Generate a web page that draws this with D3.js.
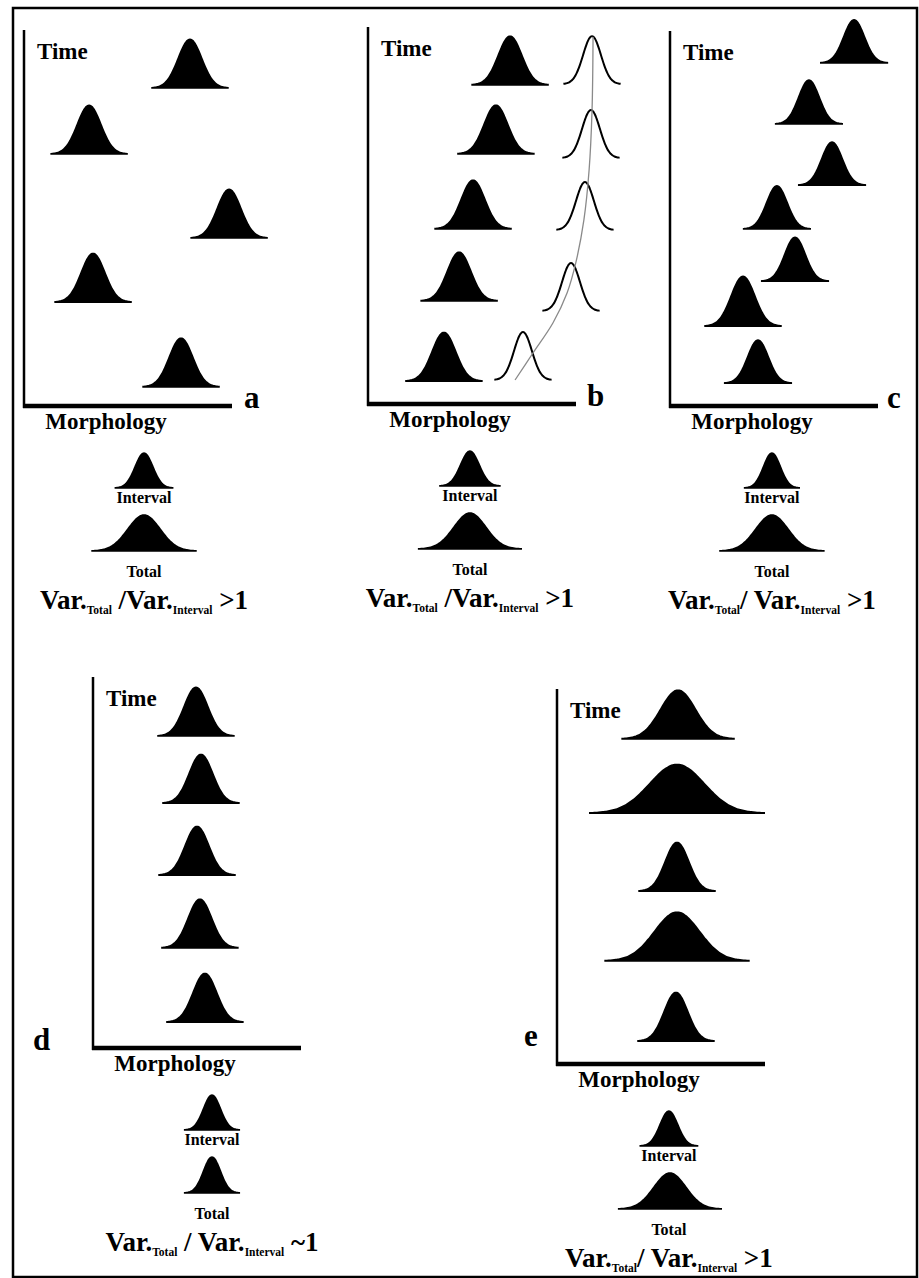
<!DOCTYPE html>
<html>
<head>
<meta charset="utf-8">
<script src="https://cdn.jsdelivr.net/npm/d3@7"></script>
<style>
  body { margin: 0; background: #fff; }
  svg { display: block; }
  text { font-family: "Liberation Serif", "Times New Roman", serif; font-weight: bold; fill: #000; }
</style>
</head>
<body>
<svg id="fig" width="919" height="1278"></svg>
<script>
// Morphology in axis units (0..100 = length of the x axis), time in axis units (0 = x axis).
// Each curve: mean morphology, time of its baseline, sd (morphology units).
const aMorph = [79.8, 31.3, 98.6, 33.2, 75.5];
const aTime  = [84.8, 67.2, 44.8, 27.7, 5.1];
const aSd    = [5.7, 5.7, 5.7, 5.7, 5.7];

const bMorph = [68.3, 61.5, 50.5, 43.8, 36.5];
const bTime  = [85.1, 66.7, 46.7, 27.5, 6.1];
const bSd    = [5.7, 5.7, 5.7, 5.7, 5.7];
const bOpenMorph = [107.7, 107.2, 104.3, 97.6, 74.5];
const bOpenTime  = [85.3, 65.6, 46.4, 24.8, 6.4];
const bOpenSd    = [4.3, 4.3, 4.3, 4.3, 4.3];
const bTrendMorph = [70.7, 79.3, 88.9, 95.7, 100, 103.8, 106.3, 107.7, 108.2];
const bTrendTime  = [6.4, 13.6, 21.6, 29.6, 37.9, 49.1, 62.4, 78.1, 97.9];

const cMorph = [88.5, 66.8, 77.9, 51.4, 60.1, 35.1, 42.3];
const cTime  = [91.5, 75.2, 58.9, 47.2, 33.3, 21.3, 6.1];
const cSd    = [5.0, 5.0, 5.0, 5.0, 5.0, 5.7, 5.0];
const cPeak  = [11.5, 11.7, 11.5, 11.5, 11.7, 13.3, 11.5];

const dMorph = [49.5, 51.9, 50.0, 51.4, 53.8];
const dTime  = [83.2, 65.3, 46.1, 26.7, 6.9];
const dSd    = [5.7, 5.7, 5.7, 5.7, 5.7];

const eMorph = [58.2, 57.7, 57.7, 57.7, 57.2];
const eTime  = [86.7, 66.9, 46.1, 27.5, 6.1];
const eSd    = [8.4, 13.1, 5.7, 10.8, 5.7];

// summary distributions under each panel: [morph, sd] for interval and total
const intervalMorph = { a: 57.7, b: 49.0, c: 49.0, d: 57.2, e: 53.8 };
const intervalSd    = { a: 4.3, b: 4.5, c: 4.1, d: 4.1, e: 4.3 };
const totalMorph    = { a: 57.7, b: 49.0, c: 49.0, d: 57.2, e: 54.3 };
const totalSd       = { a: 7.8, b: 7.7, c: 7.8, d: 4.1, e: 7.7 };
const ratioText = {
  a: ["Var.", "Total", " /Var.", "Interval", " >1"],
  b: ["Var.", "Total", " /Var.", "Interval", " >1"],
  c: ["Var.", "Total", "/ Var.", "Interval", "  >1"],
  d: ["Var.", "Total", " / Var.", "Interval", " ~1"],
  e: ["Var.", "Total", "/ Var.", "Interval", " >1"]
};

// layout (pixels)
const panels = [
  { id: "a", x0: 24,  axisY: 406,  top: 30,  lab: [244, 408] },
  { id: "b", x0: 368, axisY: 404,  top: 27,  lab: [587, 406] },
  { id: "c", x0: 670, axisY: 406,  top: 31,  lab: [887, 408] },
  { id: "d", x0: 93,  axisY: 1048, top: 677, lab: [33, 1050] },
  { id: "e", x0: 557, axisY: 1064, top: 689, lab: [524, 1046] }
];
const AXIS_LEN = 208, TIME_LEN = 375, PEAK = 13, TAIL = 3.2;

const svg = d3.select("#fig");
svg.append("rect").attr("x", 13).attr("y", 8).attr("width", 904).attr("height", 1269)
  .attr("fill", "none").attr("stroke", "#000").attr("stroke-width", 2.5);

const zs = d3.range(-TAIL, TAIL + 0.001, 0.08);

function bell(g, x, yBase, m, sd, h, filled) {
  if (filled) {
    const area = d3.area()
      .x(z => x(m + z * sd))
      .y0(yBase)
      .y1(z => yBase - h * Math.exp(-z * z / 2))
      .curve(d3.curveBasis);
    g.append("path").attr("d", area(zs))
      .attr("fill", "#000").attr("stroke", "#000").attr("stroke-width", 1.6);
  } else {
    const line = d3.line()
      .x(z => x(m + z * sd))
      .y(z => yBase - h * Math.exp(-z * z / 2))
      .curve(d3.curveBasis);
    g.append("path").attr("d", line(zs))
      .attr("fill", "none").attr("stroke", "#000").attr("stroke-width", 2);
  }
}

function drawPanel(p, morph, time, sd, peak) {
  const x = d3.scaleLinear().domain([0, 100]).range([p.x0, p.x0 + AXIS_LEN]);
  const y = d3.scaleLinear().domain([0, 100]).range([p.axisY, p.axisY - TIME_LEN]);
  const hPx = y(0) - y(1);
  const g = svg.append("g").attr("class", "panel-" + p.id);

  // axes
  g.append("line").attr("x1", x(0)).attr("x2", x(0)).attr("y1", p.top).attr("y2", p.axisY + 2)
    .attr("stroke", "#000").attr("stroke-width", 2.5);
  g.append("line").attr("x1", x(0) - 1).attr("x2", x(100)).attr("y1", p.axisY).attr("y2", p.axisY)
    .attr("stroke", "#000").attr("stroke-width", 4.5);

  g.append("text").attr("x", x(0) + 13).attr("y", p.top + 29)
    .attr("font-size", 23).text("Time");
  g.append("text").attr("x", x(0) + 82).attr("y", p.axisY + 23)
    .attr("text-anchor", "middle").attr("font-size", 23).text("Morphology");
  g.append("text").attr("x", p.lab[0]).attr("y", p.lab[1])
    .attr("font-size", 31).text(p.id);

  morph.forEach((m, i) => {
    const pk = Array.isArray(peak) ? peak[i] : peak;
    bell(g, x, y(time[i]), m, sd[i], pk * hPx, true);
  });

  // interval / total summary
  const intBase = p.axisY + 82, totBase = p.axisY + 145;
  bell(g, x, intBase, intervalMorph[p.id], intervalSd[p.id], 35, true);
  bell(g, x, totBase, totalMorph[p.id], totalSd[p.id], 36, true);
  const cx = x(intervalMorph[p.id]);
  g.append("text").attr("x", cx).attr("y", intBase + 15)
    .attr("text-anchor", "middle").attr("font-size", 16).text("Interval");
  g.append("text").attr("x", cx).attr("y", totBase + 26)
    .attr("text-anchor", "middle").attr("font-size", 16).text("Total");

  const t = g.append("text").attr("x", cx).attr("y", totBase + 58)
    .attr("text-anchor", "middle").attr("font-size", 27);
  const parts = ratioText[p.id];
  t.append("tspan").text(parts[0]);
  t.append("tspan").attr("font-size", 11.5).attr("dy", 5).text(parts[1]);
  t.append("tspan").attr("dy", -5).text(parts[2]);
  t.append("tspan").attr("font-size", 11.5).attr("dy", 5).text(parts[3]);
  t.append("tspan").attr("dy", -5).text(parts[4]);

  return { g, x, y, hPx };
}

drawPanel(panels[0], aMorph, aTime, aSd, PEAK);
const pb = drawPanel(panels[1], bMorph, bTime, bSd, PEAK);
drawPanel(panels[2], cMorph, cTime, cSd, cPeak);
drawPanel(panels[3], dMorph, dTime, dSd, PEAK);
drawPanel(panels[4], eMorph, eTime, eSd, PEAK);

// panel b: open curves and their trajectory
bOpenMorph.forEach((m, i) => {
  bell(pb.g, pb.x, pb.y(bOpenTime[i]), m, bOpenSd[i], 12.8 * pb.hPx, false);
});
const trend = d3.line()
  .x(d => pb.x(d[0]))
  .y(d => pb.y(d[1]))
  .curve(d3.curveCatmullRom);
pb.g.append("path")
  .attr("d", trend(bTrendMorph.map((m, i) => [m, bTrendTime[i]])))
  .attr("fill", "none").attr("stroke", "#8a8a8a").attr("stroke-width", 1.3);
</script>
</body>
</html>
